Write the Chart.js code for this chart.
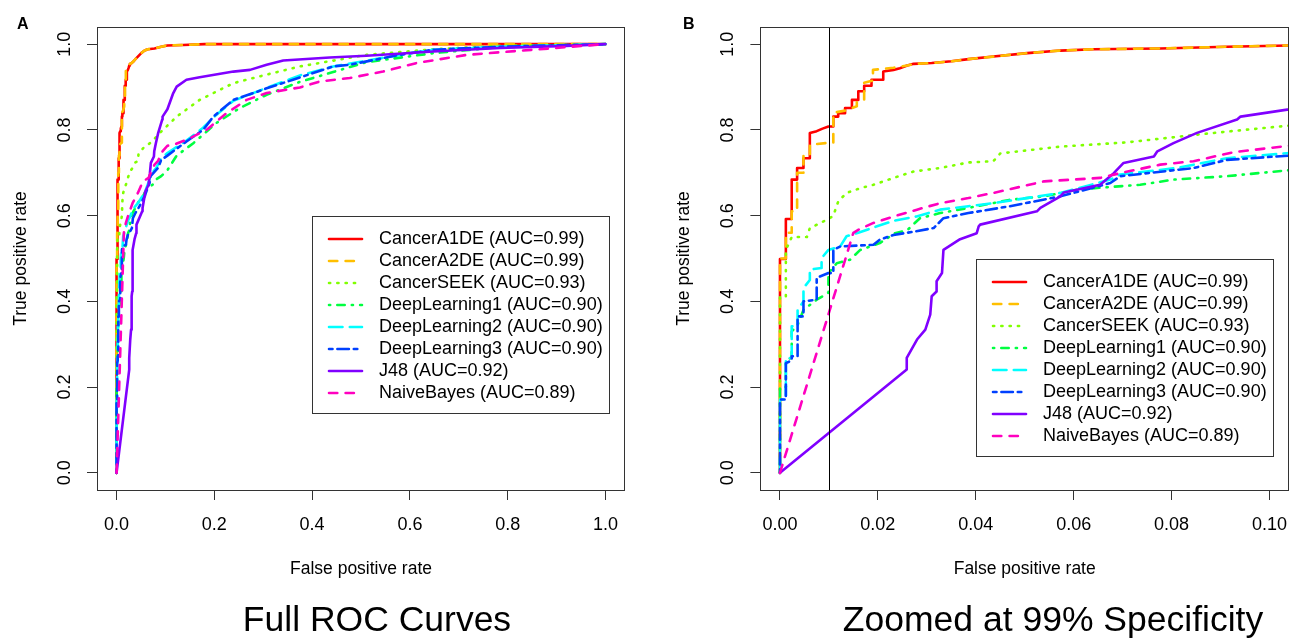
<!DOCTYPE html>
<html>
<head>
<meta charset="utf-8">
<title>ROC curves</title>
<script src="https://cdn.jsdelivr.net/npm/chart.js@4.4.1/dist/chart.umd.min.js"></script>
<style>
  body { margin: 0; background: #fff; }
  #wrap { position: relative; width: 1289px; height: 638px; font-family: 'Liberation Sans', Arial, sans-serif; color: #000; }
  .panel { position: absolute; top: 0; height: 638px; }
  #panelA { left: 0; width: 645px; }
  #panelB { left: 645px; width: 644px; }
  .tag { position: absolute; top: 16px; font-size: 16px; font-weight: bold; line-height: 1; }
  .caption { position: absolute; top: 602px; width: 600px; text-align: center; font-size: 35.5px; line-height: 1; }
</style>
</head>
<body>
<div id="wrap">
  <div class="panel" id="panelA"><canvas id="rocFull"></canvas></div>
  <div class="panel" id="panelB"><canvas id="rocZoom"></canvas></div>
  <div class="tag" style="left:17px">A</div>
  <div class="tag" style="left:683px">B</div>
  <div class="caption" style="left:77px">Full ROC Curves</div>
  <div class="caption" style="left:753px">Zoomed at 99% Specificity</div>
</div>

<script>
// models and their AUC
var modelNames = ['CancerA1DE', 'CancerA2DE', 'CancerSEEK', 'DeepLearning1', 'DeepLearning2', 'DeepLearning3', 'J48', 'NaiveBayes'];
var aucValues = [0.99, 0.99, 0.93, 0.90, 0.90, 0.90, 0.92, 0.89];

// ROC points [false positive rate, true positive rate]
var cancerA1DE = [[0,0],[0,0.499],[0.0012,0.499],[0.0012,0.592],[0.0024,0.592],[0.0024,0.684],[0.0035,0.684],[0.0035,0.711],[0.0048,0.711],[0.0048,0.734],[0.0061,0.734],[0.0061,0.793],[0.0075,0.797],[0.0087,0.803],[0.0099,0.808],[0.0109,0.808],[0.0109,0.831],[0.0119,0.831],[0.0119,0.839],[0.0133,0.839],[0.0133,0.851],[0.0147,0.851],[0.0147,0.870],[0.016,0.870],[0.016,0.890],[0.0172,0.890],[0.0172,0.903],[0.0187,0.903],[0.0187,0.917],[0.0211,0.917],[0.0211,0.936],[0.0232,0.940],[0.0245,0.944],[0.026,0.950],[0.0273,0.954],[0.031,0.956],[0.035,0.960],[0.0385,0.965],[0.0436,0.971],[0.0505,0.979],[0.0573,0.985],[0.064,0.988],[0.0777,0.990],[0.0913,0.994],[0.104,0.997],[0.136,0.998],[0.18,1],[1,1]];
var cancerA2DE = [[0,0],[0,0.5],[0.0012,0.5],[0.0012,0.56],[0.0024,0.56],[0.0024,0.61],[0.0035,0.61],[0.0035,0.70],[0.0048,0.70],[0.0048,0.74],[0.0061,0.74],[0.0061,0.765],[0.0099,0.77],[0.0109,0.77],[0.0109,0.84],[0.0133,0.845],[0.0157,0.855],[0.0157,0.865],[0.0172,0.87],[0.0172,0.91],[0.019,0.915],[0.019,0.94],[0.0232,0.945],[0.026,0.950],[0.0273,0.954],[0.031,0.956],[0.035,0.960],[0.0385,0.965],[0.0436,0.971],[0.0505,0.979],[0.0573,0.985],[0.064,0.988],[0.0777,0.990],[0.0913,0.994],[0.104,0.997],[0.136,0.998],[0.18,1],[1,1]];
var cancerSEEK = [[0,0],[0,0.41],[0.0012,0.41],[0.0012,0.52],[0.0024,0.55],[0.0055,0.55],[0.0061,0.571],[0.0099,0.592],[0.0109,0.60],[0.0119,0.633],[0.0136,0.653],[0.0164,0.664],[0.0191,0.672],[0.0232,0.688],[0.0273,0.703],[0.0327,0.711],[0.0385,0.724],[0.0436,0.727],[0.045,0.745],[0.0573,0.761],[0.071,0.771],[0.0845,0.788],[0.0913,0.796],[0.104,0.81],[0.123,0.831],[0.17,0.87],[0.239,0.909],[0.307,0.929],[0.375,0.948],[0.511,0.975],[0.648,0.988],[0.784,0.996],[1,1]];
var deepLearning1 = [[0,0],[0,0.2],[0.0012,0.2],[0.0012,0.26],[0.0024,0.27],[0.0024,0.33],[0.0036,0.345],[0.0048,0.38],[0.0075,0.404],[0.0099,0.42],[0.0099,0.466],[0.0116,0.489],[0.0143,0.497],[0.0164,0.52],[0.0204,0.536],[0.0235,0.559],[0.026,0.566],[0.0286,0.594],[0.0327,0.606],[0.0385,0.618],[0.047,0.637],[0.054,0.645],[0.061,0.661],[0.0654,0.665],[0.0736,0.672],[0.0804,0.684],[0.0913,0.692],[0.104,0.706],[0.123,0.74],[0.157,0.769],[0.204,0.816],[0.252,0.851],[0.307,0.882],[0.375,0.912],[0.443,0.935],[0.511,0.958],[0.648,0.979],[0.784,0.993],[1,1]];
var deepLearning2 = [[0,0],[0,0.171],[0.0012,0.171],[0.0012,0.268],[0.0024,0.268],[0.0024,0.342],[0.0036,0.342],[0.0036,0.38],[0.0048,0.40],[0.0048,0.431],[0.0061,0.45],[0.0061,0.474],[0.0085,0.478],[0.0085,0.501],[0.0099,0.52],[0.0123,0.528],[0.0136,0.552],[0.016,0.56],[0.019,0.572],[0.0232,0.588],[0.0279,0.598],[0.0327,0.614],[0.0385,0.622],[0.0436,0.629],[0.0573,0.653],[0.0675,0.684],[0.0695,0.696],[0.081,0.711],[0.0913,0.734],[0.104,0.746],[0.143,0.775],[0.177,0.805],[0.204,0.835],[0.239,0.868],[0.307,0.898],[0.375,0.927],[0.443,0.948],[0.579,0.975],[0.648,0.987],[0.784,0.994],[1,1]];
var deepLearning3 = [[0,0],[0,0.171],[0.0012,0.171],[0.0012,0.256],[0.0024,0.262],[0.0024,0.272],[0.0036,0.272],[0.0036,0.365],[0.0048,0.365],[0.0048,0.40],[0.0075,0.404],[0.0075,0.455],[0.0099,0.466],[0.0109,0.466],[0.0109,0.52],[0.0123,0.528],[0.0191,0.532],[0.0204,0.544],[0.0232,0.555],[0.026,0.56],[0.0314,0.571],[0.0334,0.594],[0.0385,0.606],[0.047,0.622],[0.0573,0.645],[0.0675,0.676],[0.0695,0.692],[0.0845,0.711],[0.0913,0.73],[0.104,0.74],[0.143,0.773],[0.177,0.80],[0.198,0.831],[0.239,0.87],[0.28,0.886],[0.307,0.897],[0.361,0.917],[0.443,0.948],[0.477,0.952],[0.579,0.975],[0.648,0.987],[0.784,0.994],[1,1]];
var j48 = [[0,0],[0.0259,0.241],[0.0259,0.268],[0.028,0.311],[0.0297,0.334],[0.0307,0.369],[0.031,0.412],[0.032,0.423],[0.032,0.447],[0.0331,0.466],[0.0334,0.52],[0.0368,0.545],[0.0402,0.559],[0.0406,0.575],[0.0409,0.579],[0.0525,0.61],[0.0532,0.618],[0.0573,0.645],[0.058,0.654],[0.0654,0.672],[0.0682,0.699],[0.0702,0.723],[0.0764,0.738],[0.0771,0.75],[0.0804,0.769],[0.0852,0.793],[0.0934,0.824],[0.0941,0.831],[0.104,0.848],[0.116,0.886],[0.123,0.901],[0.143,0.917],[0.17,0.923],[0.239,0.936],[0.273,0.94],[0.307,0.952],[0.341,0.962],[0.436,0.969],[0.511,0.973],[0.648,0.983],[0.784,0.991],[0.92,0.996],[1,1]];
var naiveBayes = [[0,0],[0.015,0.56],[0.016,0.567],[0.0191,0.583],[0.0232,0.598],[0.028,0.614],[0.0327,0.629],[0.0385,0.641],[0.0436,0.653],[0.054,0.68],[0.0654,0.688],[0.0695,0.699],[0.0777,0.719],[0.0845,0.727],[0.0927,0.748],[0.104,0.763],[0.116,0.765],[0.143,0.777],[0.184,0.80],[0.225,0.839],[0.266,0.87],[0.307,0.886],[0.375,0.899],[0.416,0.913],[0.477,0.921],[0.545,0.936],[0.614,0.956],[0.716,0.975],[0.852,0.987],[1,1]];

var rocCurves = [cancerA1DE, cancerA2DE, cancerSEEK, deepLearning1, deepLearning2, deepLearning3, j48, naiveBayes];

// axis ticks
var yTicks = [0, 0.2, 0.4, 0.6, 0.8, 1.0];
var xTicksFull = [0, 0.2, 0.4, 0.6, 0.8, 1.0];
var xTicksZoom = [0, 0.02, 0.04, 0.06, 0.08, 0.10];
var specificityCut = 0.01;

// rainbow(8) with R line types 1..6,1,2
var lineColors = ['#FF0000', '#FFBF00', '#80FF00', '#00FF40', '#00FFFF', '#0040FF', '#8000FF', '#FF00BF'];
var solid = [], dashed = [8.3, 8.3], dotted = [1.2, 7.1], dotdash = [1.2, 7.1, 7.4, 7.1], longdash = [13.5, 7.3], twodash = [3.5, 4.9, 11.5, 4.9];
var lineDashes = [solid, dashed, dotted, dotdash, longdash, twodash, solid, dashed];

Chart.defaults.font.family = "'Liberation Sans', Arial, sans-serif";
Chart.defaults.color = '#000';

function buildDatasets() {
    var sets = [];
    for (var i = 0; i < rocCurves.length; i++) {
        sets.push({
            label: modelNames[i] + ' (AUC=' + aucValues[i].toFixed(2) + ')',
            data: rocCurves[i],
            borderColor: lineColors[i],
            borderDash: lineDashes[i],
            borderWidth: 2.6,
            borderCapStyle: 'round',
            borderJoinStyle: 'round',
            pointRadius: 0,
            fill: false,
            tension: 0,
            order: rocCurves.length - i // later models drawn on top
        });
    }
    return sets;
}

// box round the plot region, plus optional vertical cut line
var plotFrame = {
    id: 'plotFrame',
    afterDatasetsDraw: function(chart, args, opts) {
        var a = chart.chartArea;
        var ctx = chart.ctx;
        ctx.save();
        if (opts.cutX !== undefined) {
            var px = Math.round(chart.scales.x.getPixelForValue(opts.cutX)) + 0.5;
            ctx.strokeStyle = '#000';
            ctx.lineWidth = 1;
            ctx.beginPath();
            ctx.moveTo(px, a.top);
            ctx.lineTo(px, a.bottom);
            ctx.stroke();
        }
        ctx.strokeStyle = '#333';
        ctx.lineWidth = 1;
        ctx.strokeRect(Math.round(a.left) + 0.5, Math.round(a.top) + 0.5,
            Math.round(a.right - a.left) - 1, Math.round(a.bottom - a.top));
        ctx.restore();
    }
};

// boxed legend anchored at a data position (top-left corner)
var rocLegend = {
    id: 'rocLegend',
    afterDatasetsDraw: function(chart, args, opts) {
        var ctx = chart.ctx;
        var left = Math.round(chart.scales.x.getPixelForValue(opts.x));
        var top = Math.round(chart.scales.y.getPixelForValue(opts.y));
        var sets = chart.data.datasets;
        ctx.save();
        ctx.font = "18px 'Liberation Sans', Arial, sans-serif";
        var widest = 0;
        sets.forEach(function(ds) { widest = Math.max(widest, ctx.measureText(ds.label).width); });
        var w = Math.round(67 + widest + 6);
        var h = 23 + (sets.length - 1) * 22 + 20;
        ctx.fillStyle = '#fff';
        ctx.fillRect(left, top, w, h);
        ctx.strokeStyle = '#333';
        ctx.lineWidth = 1;
        ctx.strokeRect(left + 0.5, top + 0.5, w, h);
        sets.forEach(function(ds, i) {
            var y = top + 23 + i * 22;
            ctx.beginPath();
            ctx.setLineDash(ds.borderDash);
            ctx.lineCap = 'round';
            ctx.strokeStyle = ds.borderColor;
            ctx.lineWidth = ds.borderWidth;
            ctx.moveTo(left + 17, y);
            ctx.lineTo(left + 50, y);
            ctx.stroke();
            ctx.setLineDash([]);
            ctx.fillStyle = '#000';
            ctx.textBaseline = 'middle';
            ctx.textAlign = 'left';
            ctx.fillText(ds.label, left + 67, y);
        });
        ctx.restore();
    }
};

function makeScales(xTicks, xMax, digits) {
    var pad = (xMax - 0) * 0.04;
    return {
        x: {
            type: 'linear',
            min: -pad,
            max: xMax + pad,
            afterBuildTicks: function(s) { s.ticks = xTicks.map(function(v) { return {value: v}; }); },
            afterFit: function(s) {
                s.height = 148;
                s.paddingLeft = 0;
                s.paddingRight = 0;
            },
            ticks: {
                callback: function(v) { return v.toFixed(digits); },
                font: {size: 18},
                padding: 14,
                maxRotation: 0,
                autoSkip: false
            },
            grid: {drawOnChartArea: false, tickLength: 10, color: '#333'},
            border: {display: false},
            title: {display: true, text: 'False positive rate', font: {size: 17.5}, padding: {top: 0, bottom: 58.5}}
        },
        y: {
            type: 'linear',
            min: -0.04,
            max: 1.04,
            afterBuildTicks: function(s) { s.ticks = yTicks.map(function(v) { return {value: v}; }); },
            afterFit: function(s) {
                s.width = 97;
                s.paddingTop = 0;
                s.paddingBottom = 0;
            },
            ticks: {
                callback: function(v) { return v.toFixed(1); },
                font: {size: 18},
                padding: 9.5,
                minRotation: 90,
                maxRotation: 90,
                crossAlign: 'center',
                autoSkip: false
            },
            grid: {drawOnChartArea: false, tickLength: 10, color: '#333'},
            border: {display: false},
            title: {display: true, text: 'True positive rate', font: {size: 17.5}, padding: {top: 10.5, bottom: 0}}
        }
    };
}

function createChart(canvasId, xTicks, xMax, digits, padding, legendAt, cutX) {
    var ctx = document.getElementById(canvasId).getContext('2d');
    return new Chart(ctx, {
        type: 'line',
        data: { datasets: buildDatasets() },
        options: {
            responsive: true,
            maintainAspectRatio: false,
            animation: false,
            events: [],
            layout: { padding: padding },
            scales: makeScales(xTicks, xMax, digits),
            plugins: {
                legend: { display: false },
                tooltip: { enabled: false },
                plotFrame: { cutX: cutX },
                rocLegend: { x: legendAt[0], y: legendAt[1] }
            }
        },
        plugins: [plotFrame, rocLegend]
    });
}

createChart('rocFull', xTicksFull, 1.0, 1, {left: 0, top: 27, right: 20, bottom: 0}, [0.4, 0.6]);
createChart('rocZoom', xTicksZoom, 0.10, 2, {left: 18.4, top: 27, right: 0, bottom: 0}, [0.04, 0.5], specificityCut);
</script>
</body>
</html>
